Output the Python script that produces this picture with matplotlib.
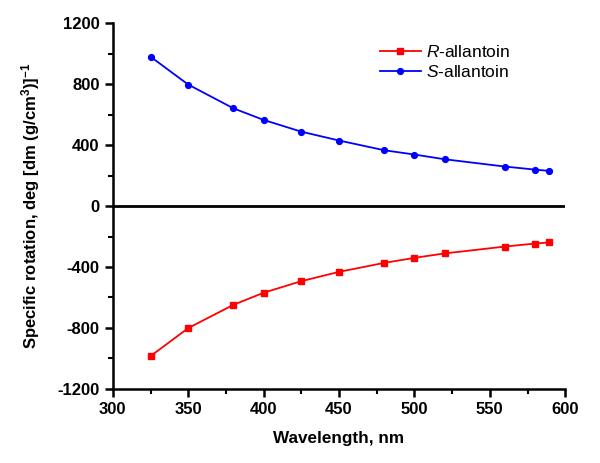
import matplotlib.pyplot as plt
from matplotlib.ticker import MultipleLocator

plt.rcParams['font.family'] = ['Liberation Sans', 'DejaVu Sans']
plt.rcParams['axes.unicode_minus'] = False
plt.rcParams['mathtext.fontset'] = 'custom'
plt.rcParams['mathtext.rm'] = 'Liberation Sans'
plt.rcParams['mathtext.it'] = 'Liberation Sans:italic'
plt.rcParams['mathtext.bf'] = 'Liberation Sans:bold'

# Data
wavelength = [325, 350, 380, 400, 425, 450, 480, 500, 520, 560, 580, 589]
r_allantoin = [-985, -801, -648, -569, -493, -432, -373, -340, -311, -266, -246, -239]
s_allantoin = [980, 797, 641, 565, 488, 430, 366, 338, 307, 259, 239, 231]

fig = plt.figure(figsize=(6, 4.63), dpi=100)
ax = fig.add_axes([0.188, 0.160, 0.754, 0.790])

ax.plot(wavelength, r_allantoin, color='#ff0000', marker='s', markersize=4,
        linewidth=1.3, label='$\\mathit{R}$-allantoin')
ax.plot(wavelength, s_allantoin, color='#0000ff', marker='o', markersize=4.2,
        linewidth=1.3, label='$\\mathit{S}$-allantoin')
ax.axhline(0, color='black', linewidth=2)

ax.set_xlim(300, 600)
ax.set_ylim(-1200, 1200)
ax.xaxis.set_major_locator(MultipleLocator(50))
ax.xaxis.set_minor_locator(MultipleLocator(25))
ax.yaxis.set_major_locator(MultipleLocator(400))
ax.yaxis.set_minor_locator(MultipleLocator(200))

for s in ['top', 'right']:
    ax.spines[s].set_visible(False)
for s in ['left', 'bottom']:
    ax.spines[s].set_linewidth(1.8)

ax.tick_params(which='major', direction='out', length=6, width=1.8, labelsize=12)
ax.tick_params(which='minor', direction='out', length=3.5, width=1.5)
for lab in ax.get_xticklabels() + ax.get_yticklabels():
    lab.set_fontweight('bold')

ax.set_xlabel('Wavelength, nm', fontsize=12.3, fontweight='bold', labelpad=10)
ax.set_ylabel('Specific rotation, deg [dm (g/cm$^{\\mathbf{3}}$)]$^{\\mathbf{-1}}$',
              fontsize=12, fontweight='bold', labelpad=11)

ax.legend(loc='upper left', bbox_to_anchor=(0.555, 0.985), frameon=False,
          fontsize=12.5, handlelength=2.4, handletextpad=0.3, labelspacing=0.2)

fig.savefig('out.png', dpi=100)
